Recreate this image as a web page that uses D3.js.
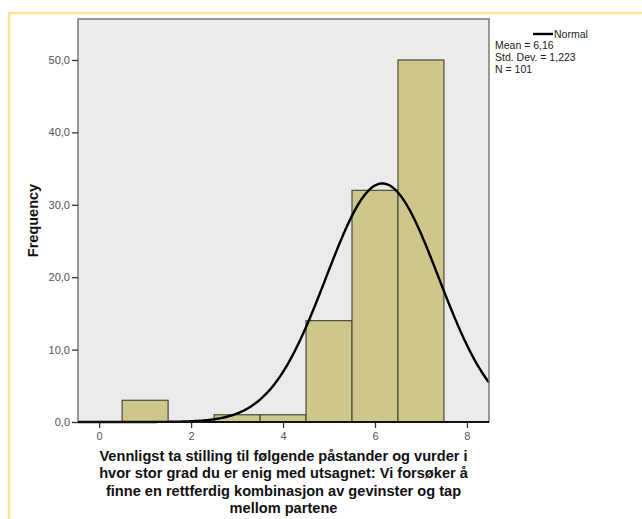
<!DOCTYPE html>
<html>
<head>
<meta charset="utf-8">
<script src="https://cdn.jsdelivr.net/npm/d3@7"></script>
<style>
  body { margin: 0; background: #fff; }
  svg { display: block; font-family: Arial, "Liberation Sans", sans-serif; }
</style>
</head>
<body>
<div id="chart"></div>
<script>
var width = 642;
var height = 519;

// histogram bins (center value) and frequencies
var binCenters = [1, 2, 3, 4, 5, 6, 7];
var frequencies = [3, 0, 1, 1, 14, 32, 50];
var xTicks = [0, 2, 4, 6, 8];
var yTicks = [0, 10, 20, 30, 40, 50];
var mean = 6.16;
var stdDev = 1.223;
var n = 101;
var titleLines = [
  "Vennligst ta stilling til følgende påstander og vurder i",
  "hvor stor grad du er enig med utsagnet: Vi forsøker å",
  "finne en rettferdig kombinasjon av gevinster og tap",
  "mellom partene"
];

var plot = {left: 78, right: 489, top: 19, bottom: 422};

var x = d3.scaleLinear().domain([-0.46, 8.48]).range([plot.left, plot.right]);
var y = d3.scaleLinear().domain([0, 55.66]).range([plot.bottom, plot.top]);

var svg = d3.select("#chart").append("svg")
  .attr("width", width)
  .attr("height", height);

// yellow frame
svg.append("path")
  .attr("d", "M9," + height + "V13H" + width)
  .attr("fill", "none")
  .attr("stroke", "#fbe68f")
  .attr("stroke-width", 2.5);

// plot background
svg.append("rect")
  .attr("x", plot.left).attr("y", plot.top)
  .attr("width", plot.right - plot.left)
  .attr("height", plot.bottom - plot.top)
  .attr("fill", "#ebebeb");

// bars
svg.selectAll("rect.bar")
  .data(binCenters.map(function(c, i){ return {c: c, f: frequencies[i]}; })
    .filter(function(d){ return d.f > 0; }))
  .enter()
  .append("rect")
  .attr("class", "bar")
  .attr("x", function(d){ return x(d.c - 0.5); })
  .attr("width", function(d){ return x(d.c + 0.5) - x(d.c - 0.5); })
  .attr("y", function(d){ return y(d.f); })
  .attr("height", function(d){ return y(0) - y(d.f); })
  .attr("fill", "#cdc78c")
  .attr("stroke", "#4a4a3a")
  .attr("stroke-width", 1.2);

// normal curve scaled to counts (bin width 1)
var curveX = d3.range(0, 401).map(function(i){ return -0.46 + i * (8.94 / 400); });
var normal = curveX.map(function(v){
  var z = (v - mean) / stdDev;
  return {x: v, y: n / (stdDev * Math.sqrt(2 * Math.PI)) * Math.exp(-0.5 * z * z)};
});
svg.append("path")
  .datum(normal)
  .attr("d", d3.line().x(function(d){ return x(d.x); }).y(function(d){ return y(d.y); }))
  .attr("fill", "none")
  .attr("stroke", "#000")
  .attr("stroke-width", 2.4);

// frame
svg.append("rect")
  .attr("x", plot.left).attr("y", plot.top)
  .attr("width", plot.right - plot.left)
  .attr("height", plot.bottom - plot.top)
  .attr("fill", "none")
  .attr("stroke", "#7a7a7a")
  .attr("stroke-width", 1.5);

// axes
var xAxis = svg.append("g")
  .attr("transform", "translate(0," + plot.bottom + ")")
  .call(d3.axisBottom(x).tickValues(xTicks).tickSize(6).tickPadding(4).tickFormat(d3.format("d")));
var yAxis = svg.append("g")
  .attr("transform", "translate(" + plot.left + ",0)")
  .call(d3.axisLeft(y).tickValues(yTicks).tickSize(6).tickPadding(2)
    .tickFormat(function(d){ return d.toFixed(1).replace(".", ","); }));

[xAxis, yAxis].forEach(function(a){
  a.select(".domain").remove();
  a.selectAll("line").attr("stroke", "#333").attr("stroke-width", 1.3);
  a.selectAll("text").attr("fill", "#555").attr("font-size", "11px").attr("font-family", "Arial, 'Liberation Sans', sans-serif");
});
svg.append("line")
  .attr("x1", plot.left).attr("x2", plot.right)
  .attr("y1", plot.bottom).attr("y2", plot.bottom)
  .attr("stroke", "#111").attr("stroke-width", 2);

// y title
svg.append("text")
  .attr("transform", "translate(38," + ((plot.top + plot.bottom) / 2) + ") rotate(-90)")
  .attr("text-anchor", "middle")
  .attr("font-size", "14.5px")
  .attr("font-weight", "bold")
  .attr("fill", "#111")
  .text("Frequency");

// x title
svg.append("g").selectAll("text")
  .data(titleLines)
  .enter()
  .append("text")
  .attr("x", (plot.left + plot.right) / 2)
  .attr("y", function(d, i){ return 461 + i * 17.3; })
  .attr("text-anchor", "middle")
  .attr("font-size", "14.6px")
  .attr("font-weight", "bold")
  .attr("fill", "#111")
  .text(function(d){ return d; });

// legend
var legend = svg.append("g").attr("font-size", "10.5px").attr("fill", "#222");
legend.append("line")
  .attr("x1", 533).attr("x2", 553).attr("y1", 34).attr("y2", 34)
  .attr("stroke", "#000").attr("stroke-width", 2.4);
legend.append("text").attr("x", 554).attr("y", 38).text("Normal");
legend.selectAll("text.stat")
  .data(["Mean = " + mean.toFixed(2).replace(".", ","),
         "Std. Dev. = " + stdDev.toFixed(3).replace(".", ","),
         "N = " + n])
  .enter()
  .append("text")
  .attr("class", "stat")
  .attr("x", 495)
  .attr("y", function(d, i){ return 49 + i * 12; })
  .text(function(d){ return d; });
</script>
</body>
</html>
